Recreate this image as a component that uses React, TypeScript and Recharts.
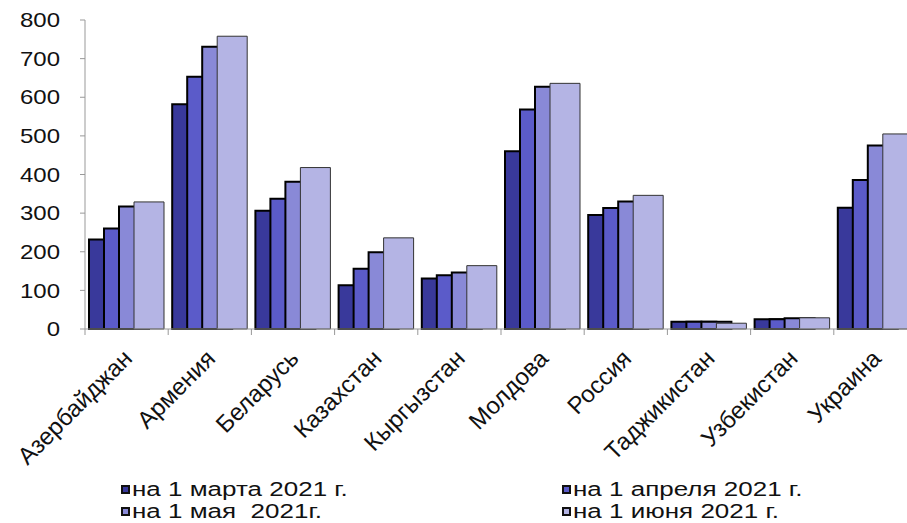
import React from 'react';
import { BarChart, Bar, XAxis, YAxis, Legend } from 'recharts';

// Countries along the category axis
const countries = [
  'Азербайджан', 'Армения', 'Беларусь', 'Казахстан', 'Кыргызстан',
  'Молдова', 'Россия', 'Таджикистан', 'Узбекистан', 'Украина',
];

// Values, one array per date
const march = [232, 582, 306, 113, 131, 460, 295, 19, 25, 314];
const april = [260, 653, 337, 156, 139, 568, 313, 19, 25, 386];
const may = [317, 731, 381, 199, 146, 627, 330, 19, 28, 475];
const june = [329, 758, 418, 236, 164, 636, 346, 15, 29, 505];

const yTicks = [0, 100, 200, 300, 400, 500, 600, 700, 800];

const seriesNames = ['на 1 марта 2021 г.', 'на 1 апреля 2021 г.', 'на 1 мая  2021г.', 'на 1 июня 2021 г.'];
const COLORS = ['#39399b', '#5b5bc9', '#8989d7', '#b4b4e4'];

const data = countries.map((name, i) => ({
  name,
  march: march[i],
  april: april[i],
  may: may[i],
  june: june[i],
}));

const FONT = '"Liberation Sans", Arial, sans-serif';
// the source picture is a bit stretched sideways, so the text is too
const STRETCH = 1.2;
const CHART_W = 925;
const MARGIN = { top: 20, right: 8, left: 25, bottom: 0 };
const Y_W = 60;
// half of one category band, used to put the tick marks between groups
const HALF_BAND = (CHART_W - MARGIN.left - MARGIN.right - Y_W) / countries.length / 2;

const CategoryTick = ({ x, y, payload }: any) => {
  const px = x + 7;
  const py = y + 31;
  return (
    <g>
      <line x1={x - HALF_BAND} x2={x - HALF_BAND} y1={y} y2={y + 6} stroke="#999" />
      <text
        x={0}
        y={0}
        textAnchor="end"
        transform={`translate(${px}, ${py}) rotate(-45)`}
        fontSize={24}
        fontFamily={FONT}
        fill="#111"
      >
        {payload.value}
      </text>
    </g>
  );
};

const ValueTick = ({ x, y, payload }: any) => (
  <text
    x={0}
    y={0}
    dy="0.36em"
    textAnchor="end"
    transform={`translate(${x}, ${y}) scale(${STRETCH}, 1)`}
    fontSize={20}
    fontFamily={FONT}
    fill="#111"
  >
    {payload.value}
  </text>
);

const renderLegend = ({ payload }: any) => {
  const items = [...payload].sort(
    (a: any, b: any) => seriesNames.indexOf(a.value) - seriesNames.indexOf(b.value)
  );
  return (
    <div
      style={{
        display: 'grid',
        gridTemplateColumns: '441px 320px',
        paddingLeft: 121,
        fontFamily: FONT,
        fontSize: 20,
        color: '#111',
        lineHeight: '22px',
      }}
    >
      {items.map((entry: any) => (
        <div key={entry.value} style={{ display: 'flex', alignItems: 'center', whiteSpace: 'pre', height: 22 }}>
          <span
            style={{
              display: 'inline-block',
              boxSizing: 'border-box',
              width: 9,
              height: 9,
              background: entry.color,
              border: '2px solid #111',
              marginRight: 2,
            }}
          />
          <span style={{ display: 'inline-block', transform: 'scale(1.3, 1.05)', transformOrigin: 'left center' }}>
            {entry.value}
          </span>
        </div>
      ))}
    </div>
  );
};

export default function App() {
  return (
    <div style={{ position: 'absolute', left: 0, top: 0, width: 907, height: 523, overflow: 'hidden', background: '#fff' }}>
      <BarChart width={CHART_W} height={523} data={data} margin={MARGIN} barSize={30} barGap={-15}>
        <XAxis
          dataKey="name"
          interval={0}
          height={194}
          tickLine={false}
          tickSize={0}
          tickMargin={0}
          axisLine={{ stroke: '#999' }}
          tick={<CategoryTick />}
        />
        <YAxis
          domain={[0, 800]}
          ticks={yTicks}
          width={Y_W}
          tickSize={5}
          tickMargin={20}
          axisLine={{ stroke: '#999' }}
          tickLine={{ stroke: '#999' }}
          tick={<ValueTick />}
        />
        <Legend
          layout="horizontal"
          verticalAlign="middle"
          align="center"
          content={renderLegend}
          wrapperStyle={{ top: 478, left: 0, width: 907 }}
        />
        <Bar dataKey="march" name={seriesNames[0]} fill={COLORS[0]} stroke="#000" strokeWidth={2} isAnimationActive={false} />
        <Bar dataKey="april" name={seriesNames[1]} fill={COLORS[1]} stroke="#000" strokeWidth={2} isAnimationActive={false} />
        <Bar dataKey="may" name={seriesNames[2]} fill={COLORS[2]} stroke="#000" strokeWidth={2} isAnimationActive={false} />
        <Bar dataKey="june" name={seriesNames[3]} fill={COLORS[3]} stroke="#333" strokeWidth={1} isAnimationActive={false} />
      </BarChart>
    </div>
  );
}
